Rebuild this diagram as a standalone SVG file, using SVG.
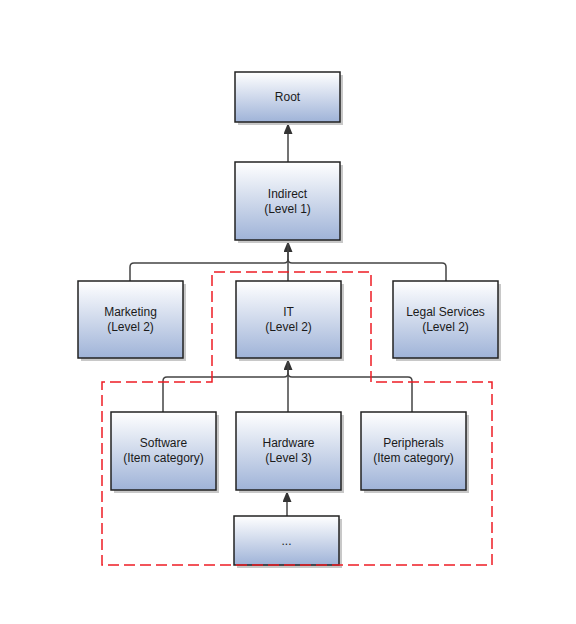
<svg xmlns="http://www.w3.org/2000/svg" width="576" height="624" viewBox="0 0 576 624">
<style>
.box{fill:url(#g);stroke:#222;stroke-width:1.5}
.sh{fill:#c8c8c8}
.t{font-family:"Liberation Sans",Arial,sans-serif;font-size:12px;fill:#1a1a1a;text-anchor:middle}
.c{fill:none;stroke:#444;stroke-width:1.5}
.d{fill:none;stroke:#ee1c24;stroke-width:1.5;stroke-dasharray:11,5}
</style>
<defs>
<linearGradient id="g" x1="0" y1="0" x2="0" y2="1">
<stop offset="0" stop-color="#ffffff"/>
<stop offset="1" stop-color="#9fb3d8"/>
</linearGradient>
<marker id="a" viewBox="0 0 11 9" refX="11" refY="4.5" markerWidth="11" markerHeight="9" orient="auto" markerUnits="userSpaceOnUse">
<path d="M0,0 L11,4.5 L0,9 z" fill="#333"/>
</marker>
</defs>
<rect width="576" height="624" fill="#fff"/>
<g id="connectors">
<path class="c" d="M288,162 V123" marker-end="url(#a)"/>
<path class="c" d="M130,281 V267 Q130,263 134,263 H284 Q288,263 288,259 V241" marker-end="url(#a)"/>
<path class="c" d="M446,281 V267 Q446,263 442,263 H292 Q288,263 288,259"/>
<path class="c" d="M288,281 V241"/>
<path class="c" d="M163,412 V381 Q163,377 167,377 H284 Q288,377 288,373 V359" marker-end="url(#a)"/>
<path class="c" d="M412,412 V381 Q412,377 408,377 H292 Q288,377 288,373"/>
<path class="c" d="M288,412 V359"/>
<path class="c" d="M287,516 V491" marker-end="url(#a)"/>
</g>
<g id="root"><rect class="sh" x="238" y="75" width="105" height="50"/><rect class="box" x="235" y="72" width="105" height="50"/><text class="t" x="287.5" y="101">Root</text></g>
<g id="indirect"><rect class="sh" x="238" y="165" width="105" height="78"/><rect class="box" x="235" y="162" width="105" height="78"/><text class="t" x="287.5" y="198">Indirect</text><text class="t" x="287.5" y="213">(Level 1)</text></g>
<g id="marketing"><rect class="sh" x="81" y="284" width="105" height="77"/><rect class="box" x="78" y="281" width="105" height="77"/><text class="t" x="130.5" y="316">Marketing</text><text class="t" x="130.5" y="331">(Level 2)</text></g>
<g id="it"><rect class="sh" x="239" y="284" width="105" height="77"/><rect class="box" x="236" y="281" width="105" height="77"/><text class="t" x="288.5" y="316">IT</text><text class="t" x="288.5" y="331">(Level 2)</text></g>
<g id="legal"><rect class="sh" x="396" y="284" width="105" height="77"/><rect class="box" x="393" y="281" width="105" height="77"/><text class="t" x="445.5" y="316">Legal Services</text><text class="t" x="445.5" y="331">(Level 2)</text></g>
<g id="software"><rect class="sh" x="114" y="415" width="105" height="78"/><rect class="box" x="111" y="412" width="105" height="78"/><text class="t" x="163.5" y="447">Software</text><text class="t" x="163.5" y="462">(Item category)</text></g>
<g id="hardware"><rect class="sh" x="239" y="415" width="105" height="78"/><rect class="box" x="236" y="412" width="105" height="78"/><text class="t" x="288.5" y="447">Hardware</text><text class="t" x="288.5" y="462">(Level 3)</text></g>
<g id="peripherals"><rect class="sh" x="364" y="415" width="105" height="78"/><rect class="box" x="361" y="412" width="105" height="78"/><text class="t" x="413.5" y="447">Peripherals</text><text class="t" x="413.5" y="462">(Item category)</text></g>
<g id="more"><rect class="sh" x="237" y="519" width="105" height="49"/><rect class="box" x="234" y="516" width="105" height="49"/><text class="t" x="286.5" y="545">...</text></g>
<g id="boundary"><path class="d" d="M212,382 V272 H371 V382 H492 V565 H102 V382 Z"/></g>
</svg>
